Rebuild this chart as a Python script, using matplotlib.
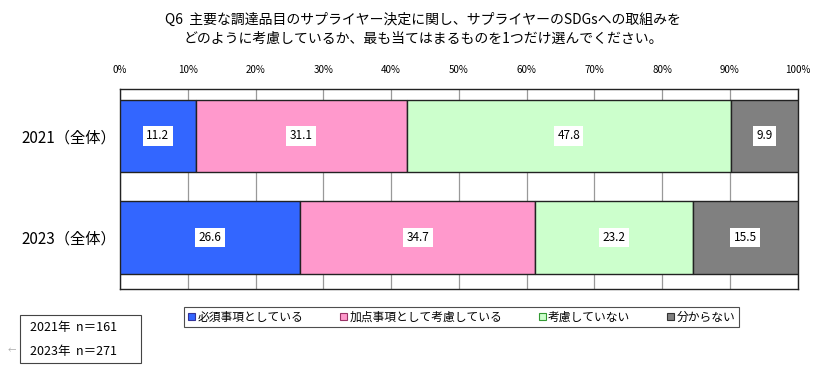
import matplotlib
matplotlib.use("Agg")
import matplotlib.pyplot as plt
from matplotlib.patches import Patch, Rectangle
import numpy as np

plt.rcParams['font.family'] = ['Noto Sans CJK JP', 'DejaVu Sans']

categories = ['2021（全体）', '2023（全体）']
series_names = ['必須事項としている', '加点事項として考慮している', '考慮していない', '分からない']
values = [
    [11.2, 26.6],
    [31.1, 34.7],
    [47.8, 23.2],
    [9.9, 15.5],
]
colors = ['#3366FF', '#FF99CC', '#CCFFCC', '#808080']
edge_colors = ['#333399', '#993366', '#339933', '#333333']
xticks = [0, 10, 20, 30, 40, 50, 60, 70, 80, 90, 100]
xtick_labels = [f'{t}%' for t in xticks]
title = 'Q6  主要な調達品目のサプライヤー決定に関し、サプライヤーのSDGsへの取組みを\nどのように考慮しているか、最も当てはまるものを1つだけ選んでください。'
n_lines = ['2021年  n＝161', '2023年  n＝271']

W, H = 819, 370
fig = plt.figure(figsize=(8.19, 3.70), dpi=100)
ax = fig.add_axes([0.1465, 0.219, 0.8275, 0.5405])

y = np.arange(len(categories))
left = np.zeros(len(categories))
for name, vals, c in zip(series_names, values, colors):
    vals = np.array(vals)
    ax.barh(y, vals, left=left, height=0.71, color=c, edgecolor='#222222',
            linewidth=1.0, label=name, zorder=3)
    for yi, l, v in zip(y, left, vals):
        ax.text(l + v / 2, yi, f'{v:.1f}', ha='center', va='center', fontsize=8.5,
                bbox=dict(facecolor='white', edgecolor='none', pad=2.5), zorder=4)
    left = left + vals

ax.set_xlim(0, 100)
ax.set_ylim(1.507, -0.463)
ax.set_xticks(xticks)
ax.set_xticklabels(xtick_labels, fontsize=7)
ax.xaxis.tick_top()
ax.tick_params(axis='x', length=0, pad=10)
ax.set_yticks(y)
ax.set_yticklabels(categories, fontsize=11)
ax.tick_params(axis='y', length=0, pad=3)
ax.grid(axis='x', color='#999999', linewidth=0.9, zorder=0)
for s in ax.spines.values():
    s.set_color('#222222')
    s.set_linewidth(1.0)

fig.text(0.517, 0.965, title, ha='center', va='top', fontsize=10, linespacing=1.45)

handles = [Patch(facecolor=c, edgecolor=e, linewidth=0.8) for c, e in zip(colors, edge_colors)]
leg = fig.legend(handles, series_names, loc='center', bbox_to_anchor=(0.5635, 0.143),
                 ncol=4, fontsize=8.5, frameon=True, fancybox=False, edgecolor='#222222',
                 handlelength=0.6, handleheight=0.6, handletextpad=0.2, columnspacing=3.1,
                 borderpad=0.3)
leg.get_frame().set_linewidth(0.8)

# n box
bx0, bx1, by0, by1 = 20, 141, 315, 363
fig.add_artist(Rectangle((bx0 / W, 1 - by1 / H), (bx1 - bx0) / W, (by1 - by0) / H,
                         transform=fig.transFigure, facecolor='white', edgecolor='#444444',
                         linewidth=0.8))
for i, line in enumerate(n_lines):
    fig.text(30 / W, 1 - (328 + 24 * i) / H, line, ha='left', va='center', fontsize=9)
fig.text(8 / W, 1 - 351 / H, '←', fontsize=6, color='#aaaaaa', ha='left', va='center')

fig.savefig('out.png', dpi=100)
